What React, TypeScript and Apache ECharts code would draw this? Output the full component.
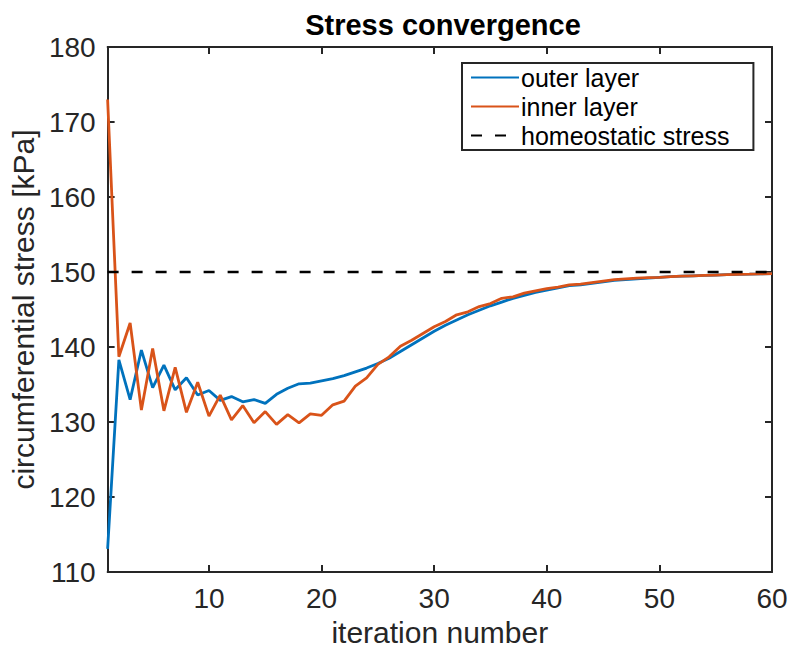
import React, { useEffect, useRef } from "react";
import * as echarts from "echarts";

const iterations: number[] = Array.from({ length: 60 }, (_, i) => i + 1);

const outerLayer: number[] = [
  113.1, 138.3, 133.0, 139.6, 134.6, 137.6, 134.3, 135.9, 133.6, 134.2,
  132.9, 133.4, 132.7, 133.0, 132.5, 133.7, 134.5, 135.1, 135.2, 135.5,
  135.8, 136.2, 136.7, 137.2, 137.8, 138.5, 139.4, 140.3, 141.2, 142.1,
  142.9, 143.6, 144.3, 144.9, 145.5, 146.0, 146.5, 146.9, 147.3, 147.6,
  147.9, 148.2, 148.3, 148.5, 148.7, 148.9, 149.0, 149.1, 149.2, 149.3,
  149.4, 149.45, 149.5, 149.55, 149.6, 149.65, 149.7, 149.72, 149.75, 149.8,
];

const innerLayer: number[] = [
  173.0, 138.7, 143.2, 131.6, 139.8, 131.5, 137.3, 131.3, 135.3, 130.8,
  133.6, 130.3, 132.2, 129.9, 131.4, 129.7, 131.0, 129.9, 131.1, 130.9,
  132.3, 132.8, 134.8, 135.9, 137.7, 138.7, 140.1, 140.9, 141.8, 142.7,
  143.4, 144.3, 144.7, 145.4, 145.8, 146.5, 146.7, 147.2, 147.5, 147.8,
  148.0, 148.3, 148.4, 148.6, 148.8, 149.0, 149.1, 149.2, 149.25, 149.3,
  149.4, 149.45, 149.5, 149.55, 149.6, 149.65, 149.7, 149.72, 149.75, 149.8,
];

const homeostaticStress = 150;
const xTicks: number[] = [10, 20, 30, 40, 50, 60];
const xRange: number[] = [1, 60];
const yRange: number[] = [110, 180];

const FONT = "'Liberation Sans', Arial, Helvetica, sans-serif";
const AXIS_COLOR = "#262626";

export default function App() {
  const ref = useRef<HTMLDivElement>(null);

  useEffect(() => {
    if (!ref.current) return;
    const chart = echarts.init(ref.current, undefined, { renderer: "svg" });

    const axisLine = { show: true, onZero: false, lineStyle: { color: AXIS_COLOR, width: 2 } };

    chart.setOption({
      animation: false,
      backgroundColor: "#ffffff",
      textStyle: { fontFamily: FONT },
      title: {
        text: "Stress convergence",
        left: 438,
        textAlign: "center",
        top: 5,
        textStyle: { fontFamily: FONT, fontSize: 29, fontWeight: "bold", color: "#000" },
      },
      grid: { left: 105, right: 28, top: 47, bottom: 77, containLabel: false },
      legend: {
        orient: "vertical",
        left: 462,
        top: 63,
        padding: [0, 24, 0, 8],
        itemWidth: 48,
        itemHeight: 14,
        itemGap: 0,
        borderColor: AXIS_COLOR,
        borderWidth: 2,
        backgroundColor: "#ffffff",
        itemStyle: { opacity: 0 },
        lineStyle: { width: 2 },
        textStyle: { fontFamily: FONT, fontSize: 25, color: "#000", lineHeight: 29, padding: [0, 0, 0, -3] },
        data: ["outer layer", "inner layer", "homeostatic stress"],
      },
      xAxis: [
        {
          type: "value",
          min: xRange[0],
          max: xRange[1],
          position: "bottom",
          name: "iteration number",
          nameLocation: "middle",
          nameGap: 37,
          nameTextStyle: { fontFamily: FONT, fontSize: 30, color: AXIS_COLOR },
          axisLine,
          axisTick: { show: true, inside: true, length: 7, customValues: xTicks, lineStyle: { color: AXIS_COLOR, width: 2 } },
          axisLabel: { show: true, customValues: xTicks, margin: 12, fontFamily: FONT, fontSize: 28, color: AXIS_COLOR },
          splitLine: { show: false },
        },
        {
          type: "value",
          min: xRange[0],
          max: xRange[1],
          position: "top",
          axisLine,
          axisTick: { show: true, inside: true, length: 7, customValues: xTicks, lineStyle: { color: AXIS_COLOR, width: 2 } },
          axisLabel: { show: false },
          splitLine: { show: false },
        },
      ],
      yAxis: [
        {
          type: "value",
          min: yRange[0],
          max: yRange[1],
          interval: 10,
          position: "left",
          name: "circumferential stress [kPa]",
          nameLocation: "middle",
          nameGap: 62,
          nameTextStyle: { fontFamily: FONT, fontSize: 30, color: AXIS_COLOR },
          axisLine,
          axisTick: { show: true, inside: true, length: 7, lineStyle: { color: AXIS_COLOR, width: 2 } },
          axisLabel: { show: true, margin: 12, fontFamily: FONT, fontSize: 28, color: AXIS_COLOR },
          splitLine: { show: false },
        },
        {
          type: "value",
          min: yRange[0],
          max: yRange[1],
          interval: 10,
          position: "right",
          axisLine,
          axisTick: { show: true, inside: true, length: 7, lineStyle: { color: AXIS_COLOR, width: 2 } },
          axisLabel: { show: false },
          splitLine: { show: false },
        },
      ],
      series: [
        {
          name: "outer layer",
          type: "line",
          xAxisIndex: 0,
          yAxisIndex: 0,
          data: iterations.map((x, i) => [x, outerLayer[i]]),
          showSymbol: false,
          symbol: "none",
          color: "#0072BD",
          lineStyle: { color: "#0072BD", width: 2.8 },
        },
        {
          name: "inner layer",
          type: "line",
          xAxisIndex: 0,
          yAxisIndex: 0,
          data: iterations.map((x, i) => [x, innerLayer[i]]),
          showSymbol: false,
          symbol: "none",
          color: "#D95319",
          lineStyle: { color: "#D95319", width: 2.8 },
        },
        {
          name: "homeostatic stress",
          type: "line",
          xAxisIndex: 0,
          yAxisIndex: 0,
          data: [
            [xRange[0], homeostaticStress],
            [xRange[1], homeostaticStress],
          ],
          showSymbol: false,
          symbol: "none",
          color: "#000000",
          lineStyle: { color: "#000000", width: 2.6, type: [11, 13] },
        },
      ],
    });

    return () => chart.dispose();
  }, []);

  return (
    <div
      ref={ref}
      style={{ position: "fixed", left: 0, top: 0, width: 800, height: 652, background: "#fff" }}
    />
  );
}
